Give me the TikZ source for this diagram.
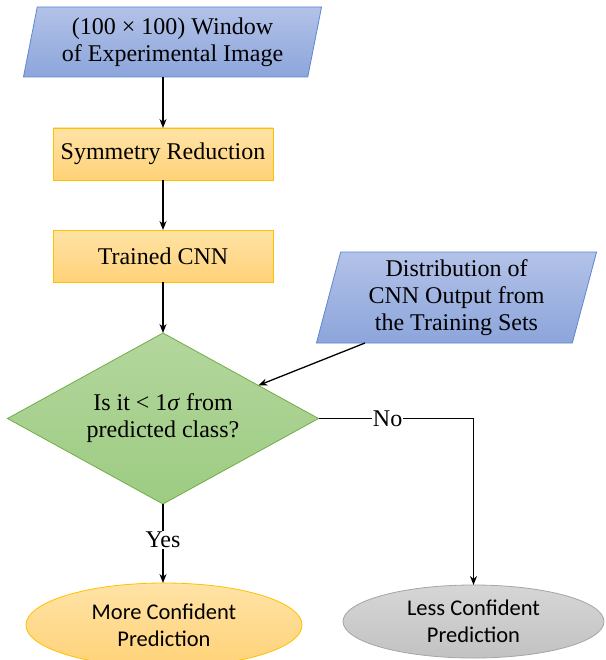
\documentclass[tikz,border=0pt]{standalone}
\usepackage{fontspec}
\setmainfont{Liberation Serif}
\newfontfamily\calfont{Carlito}
\usetikzlibrary{shapes.geometric,arrows.meta,calc}
\definecolor{blueT}{HTML}{B3C2E8}
\definecolor{blueB}{HTML}{8CA5DB}
\definecolor{blueD}{HTML}{5E86D3}
\definecolor{orT}{HTML}{FFE3A6}
\definecolor{orB}{HTML}{FFD278}
\definecolor{orD}{HTML}{FFC000}
\definecolor{grT}{HTML}{B3D69D}
\definecolor{grB}{HTML}{9DCC82}
\definecolor{grD}{HTML}{70AD47}
\definecolor{gyT}{HTML}{D6D6D6}
\definecolor{gyB}{HTML}{C2C2C2}
\definecolor{gyD}{HTML}{A5A5A5}
\tikzset{
  txt/.style={font=\fontsize{24}{27}\selectfont, align=center, text=black},
  ctxt/.style={font=\calfont\fontsize{22.5}{27}\selectfont, align=center, text=black},
  iobox/.style={trapezium, trapezium stretches=true, inner sep=0pt, outer sep=0pt,
     top color=blueT, bottom color=blueB, draw=blueD, line width=0.8pt, txt},
  procbox/.style={rectangle, inner sep=0pt, outer sep=0pt, minimum width=220pt, minimum height=52pt,
     top color=orT, bottom color=orB, draw=orD, line width=0.8pt, txt},
  decbox/.style={diamond, aspect=1.82, inner sep=0pt, outer sep=0pt, minimum width=311pt, minimum height=171pt,
     top color=grT, bottom color=grB, draw=grD, line width=0.8pt, txt},
  endbox/.style={ellipse, inner sep=0pt, outer sep=0pt, line width=0.8pt, ctxt},
  conn/.style={draw=black, line width=1.3pt, -{Stealth[length=9pt,width=7pt]}},
  lbl/.style={txt, fill=white, inner sep=1pt},
}
\begin{document}
\begin{tikzpicture}[x=1pt,y=-1pt]
\useasboundingbox (0,0) rectangle (605,660);
\node[iobox, trapezium left angle=77, trapezium right angle=103, minimum width=299pt, minimum height=70pt]
  (win) at (172.5,42) {(100 × 100) Window\\of Experimental Image};
\node[procbox] (sym) at (163,154) {Symmetry Reduction};
\node[procbox] (cnn) at (163,256) {Trained CNN};
\node[decbox] (dia) at (163,418.5) {Is it < 1\textit{σ} from\\predicted class?};
\node[iobox, trapezium left angle=76.4, trapezium right angle=103.6, minimum width=281pt, minimum height=91pt]
  (dist) at (456.5,297.5) {Distribution of\\CNN Output from\\the Training Sets};
\node[endbox, minimum width=276pt, minimum height=84pt, top color=orT, bottom color=orB, draw=orD]
  (more) at (164,625) {More Confident\\Prediction};
\node[endbox, minimum width=261pt, minimum height=73pt, top color=gyT, bottom color=gyB, draw=gyD]
  (less) at (473.5,621.5) {Less Confident\\Prediction};
\coordinate (dstart) at (365,343);
\coordinate (dend) at ($(dia.north)!0.613!(dia.east)$);
\draw[conn] (win.south -| sym.north) -- (sym.north);
\draw[conn] (sym) -- (cnn);
\draw[conn] (cnn) -- (dia);
\draw[conn] (dstart) -- (dend);
\draw[conn] (dia.south) -- node[lbl, pos=0.45] {Yes} (more.north -| dia.south);
\draw[conn] (dia.east) -| node[lbl, pos=0.223] {No} (less.north);
\end{tikzpicture}
\end{document}
